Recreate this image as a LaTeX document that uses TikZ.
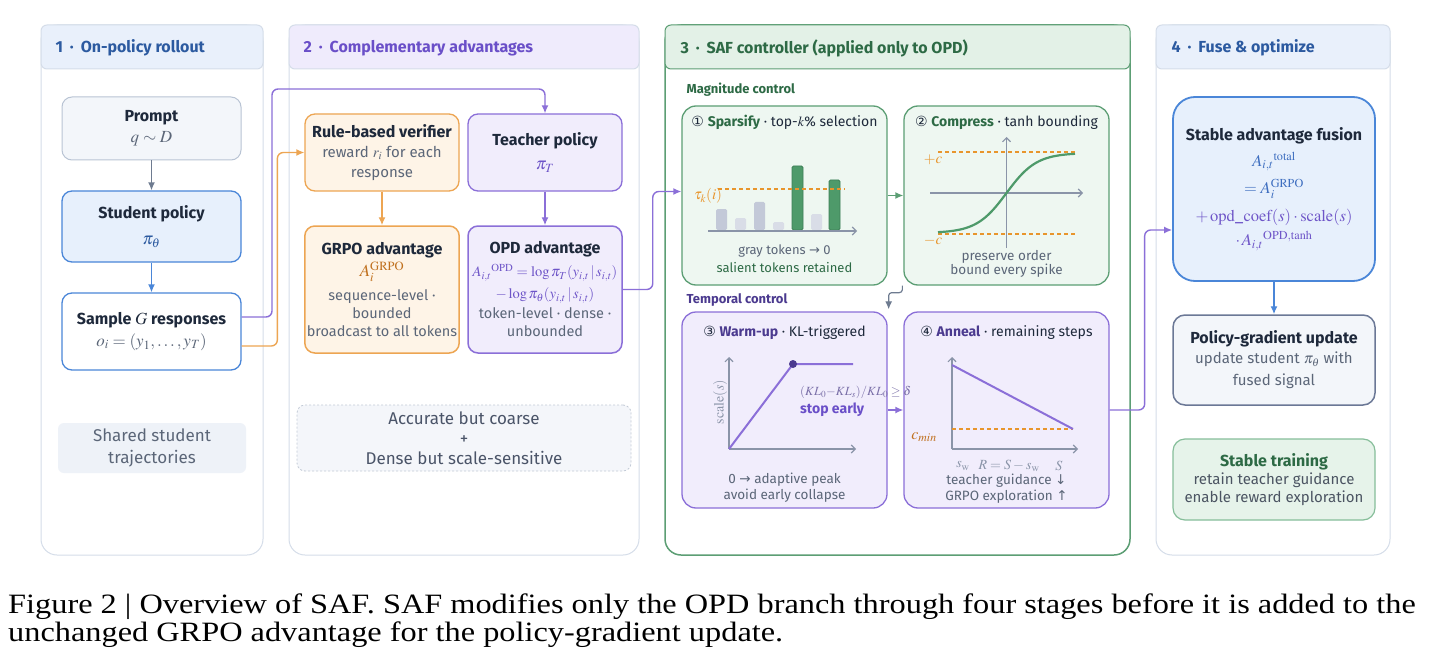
\documentclass[tikz,border=0pt]{standalone}
\usepackage{mathptmx}
\usepackage[no-math]{fontspec}
\setmainfont{Fira Sans}
\newfontfamily\symfont{DejaVu Sans}
\newfontfamily\capfont[FakeStretch=1.155]{Liberation Serif}
\usetikzlibrary{positioning,arrows.meta}

\definecolor{ink}{HTML}{1E293B}
\definecolor{txtgray}{HTML}{5B6678}
\definecolor{axisgray}{HTML}{8A94A8}
\definecolor{arrowgray}{HTML}{6E7B90}
\definecolor{panelline}{HTML}{D5DDE9}
\definecolor{headblue}{HTML}{E9F0FB}
\definecolor{headpurp}{HTML}{EFEBFC}
\definecolor{headgreen}{HTML}{E3F1E7}
\definecolor{blueline}{HTML}{4A86D8}
\definecolor{bluefill}{HTML}{E7F0FC}
\definecolor{bluetitle}{HTML}{2C5AA0}
\definecolor{bluemath}{HTML}{3F6FC0}
\definecolor{purpline}{HTML}{8B6FD8}
\definecolor{purpfill}{HTML}{F1EDFC}
\definecolor{purptitle}{HTML}{6A4FC8}
\definecolor{purpdark}{HTML}{4B3A8F}
\definecolor{purpmath}{HTML}{6E55C8}
\definecolor{purpmuted}{HTML}{7A6FA8}
\definecolor{orline}{HTML}{EDA552}
\definecolor{orfill}{HTML}{FEF4E7}
\definecolor{ormath}{HTML}{C0701E}
\definecolor{ordash}{HTML}{E8952C}
\definecolor{grline}{HTML}{5C9E74}
\definecolor{grfill}{HTML}{EEF7F1}
\definecolor{grdark}{HTML}{2D6A45}
\definecolor{grbar}{HTML}{4E9A6A}
\definecolor{grbarline}{HTML}{3D7F57}
\definecolor{barA}{HTML}{C3C9D8}
\definecolor{barB}{HTML}{D9DDE7}
\definecolor{promptfill}{HTML}{F3F6FA}
\definecolor{promptline}{HTML}{B9C4D4}
\definecolor{sharedfill}{HTML}{EEF2F8}
\definecolor{notefill}{HTML}{F4F6FA}
\definecolor{notedash}{HTML}{C2CAD6}
\definecolor{notetext}{HTML}{4A5468}
\definecolor{pguline}{HTML}{6B7896}
\definecolor{stablefill}{HTML}{E6F3EA}
\definecolor{stableline}{HTML}{86BE9A}

\newcommand\bt[2][ink]{{\fontsize{16}{20}\selectfont\bfseries\color{#1}#2}}
\newcommand\sym[1]{{\symfont#1}}
\newcommand\mth[1]{{\fontsize{17}{20}\selectfont#1}}
\newcommand\fm[2]{{\color{#1}\fontsize{16.5}{20}\selectfont#2}}
\newcommand\opdm[1]{{\color{purpmath}\fontsize{14.5}{18}\selectfont#1}}
\newcommand\hdot{\hspace{7pt}·\hspace{7pt}}

\tikzset{
  panel/.style={fill=white, draw=panelline, line width=1pt, rounded corners=16pt},
  panelhead/.style={draw=panelline, line width=1pt, rounded corners=6pt},
  headtext/.style={anchor=west, font=\fontsize{16}{19}\selectfont\bfseries},
  box/.style={rounded corners=10pt, line width=1.3pt, align=center, inner sep=2pt,
    text=txtgray, font=\fontsize{14.5}{18}\selectfont},
  conn/.style={line width=1.4pt, -{Latex[length=8pt,width=7pt]}, rounded corners=6pt},
  axis/.style={draw=axisgray, line width=1.1pt, -{Straight Barb[length=4pt,width=8pt]}},
  lbl/.style={font=\fontsize{13}{15}\selectfont, text=txtgray},
  boxtitle/.style={font=\fontsize{14}{17}\selectfont, text=ink},
  thr/.style={draw=ordash, line width=1.1pt, dash pattern=on 4pt off 3pt},
}

\begin{document}
\begin{tikzpicture}[x=1pt, y=-1pt]
\useasboundingbox (0,0) rectangle (1434,671);
\fill[white] (0,0) rectangle (1434,671);

% panels
\draw[panel] (41,25) rectangle (263,555);
\draw[panelhead, fill=headblue] (41,25) rectangle (263,69);
\node[headtext, text=bluetitle] at (52,48) {1\hdot On-policy rollout};

\draw[panel] (289,25) rectangle (639,555);
\draw[panelhead, fill=headpurp] (289,25) rectangle (639,69);
\node[headtext, text=purptitle] at (300,48) {2\hdot Complementary advantages};

\draw[panel, draw=grline, line width=1.5pt] (665,25) rectangle (1130,555);
\draw[panelhead, draw=grline, fill=headgreen] (665,25) rectangle (1130,69);
\node[headtext, text=grdark] at (677,48) {3\hdot SAF controller (applied only to OPD)};

\draw[panel] (1156,25) rectangle (1390,555);
\draw[panelhead, fill=headblue] (1156,25) rectangle (1390,69);
\node[headtext, text=bluetitle] at (1168,48) {4\hdot Fuse \& optimize};

% 1: rollout
\node[box, fill=promptfill, draw=promptline, line width=1pt, minimum width=179pt, minimum height=63pt] (prompt) at (151.5,128.5) {\bt{Prompt}\\[3pt]\mth{$q\sim D$}};
\node[box, fill=bluefill, draw=blueline, minimum width=179pt, minimum height=71pt] (student) at (151.5,226.5) {\bt{Student policy}\\[8pt]\mth{\color{bluetitle}$\pi_\theta$}};
\node[box, fill=white, draw=blueline, minimum width=179pt, minimum height=77pt] (sample) at (151.5,331.5) {\bt{Sample \mth{$G$} responses}\\[4pt]\mth{$o_i=(y_1,\ldots,y_T)$}};
\node[box, fill=sharedfill, draw=none, rounded corners=6pt, minimum width=188pt, minimum height=50pt, font=\fontsize{17}{22}\selectfont] (shared) at (152,448) {Shared student\\trajectories};

% 2: advantages
\node[box, fill=orfill, draw=orline, minimum width=154pt, minimum height=77pt, font=\fontsize{15}{20}\selectfont] (verifier) at (382,152.5) {\bt{Rule-based verifier}\\reward $r_i$ for each\\response};
\node[box, fill=orfill, draw=orline, line width=1.5pt, minimum width=154pt, minimum height=127pt] (grpo) at (382,289.5) {\bt{GRPO advantage}\\[3pt]\mth{\color{ormath}$A_i^{\mathrm{GRPO}}$}\\[6pt]sequence-level ·\\bounded\\broadcast to all tokens};
\node[box, fill=purpfill, draw=purpline, minimum width=154pt, minimum height=77pt] (teacher) at (545,152.5) {\bt{Teacher policy}\\[6pt]\mth{\color{purpmath}$\pi_T$}};
\node[box, fill=purpfill, draw=purpline, line width=1.5pt, minimum width=154pt, minimum height=127pt] (opd) at (545,289.5) {\bt{OPD advantage}\\[5pt]\opdm{$A_{i,t}{}^{\mathrm{OPD}}=\log\pi_T(y_{i,t}\,|\,s_{i,t})$}\\[4pt]\opdm{$-\log\pi_\theta(y_{i,t}\,|\,s_{i,t})$}\\[2pt]token-level · dense ·\\unbounded};
\node[box, fill=notefill, draw=notedash, line width=0.8pt, dash pattern=on 2pt off 2pt, rounded corners=8pt, minimum width=334pt, minimum height=66pt, text=notetext, font=\fontsize{17}{20}\selectfont] (note) at (464,438) {Accurate but coarse\\+\\Dense but scale-sensitive};

% 3: SAF controller
\node[anchor=west, font=\fontsize{13}{16}\selectfont\bfseries, text=grdark] (magctl) at (683,90) {Magnitude control};
\node[box, fill=grfill, draw=grline, rounded corners=14pt, minimum width=205pt, minimum height=179pt] (sparsify) at (784.5,195.5) {};
\node[box, fill=grfill, draw=grline, rounded corners=14pt, minimum width=205pt, minimum height=179pt] (compress) at (1006.5,195.5) {};
\node[anchor=west, font=\fontsize{13}{16}\selectfont\bfseries, text=purpdark] (tmpctl) at (683,300) {Temporal control};
\node[box, fill=purpfill, draw=purpline, rounded corners=14pt, minimum width=205pt, minimum height=196pt] (warmup) at (784.5,410) {};
\node[box, fill=purpfill, draw=purpline, rounded corners=14pt, minimum width=205pt, minimum height=196pt] (anneal) at (1006.5,410) {};

\node[boxtitle] at ([yshift=-17pt]sparsify.north) {\sym{①} \textcolor{grdark}{\textbf{Sparsify}} · top-$k$\% selection};
\node[boxtitle] at ([yshift=-17pt]compress.north) {\sym{②} \textcolor{grdark}{\textbf{Compress}} · tanh bounding};
\node[boxtitle] at ([yshift=-21pt]warmup.north) {\sym{③} \textcolor{purpdark}{\textbf{Warm-up}} · KL-triggered};
\node[boxtitle] at ([yshift=-21pt]anneal.north) {\sym{④} \textcolor{purpdark}{\textbf{Anneal}} · remaining steps};

% sparsify bars
\foreach \bx/\bt/\bc in {716/209/barA, 735/218/barB, 754/202/barA, 773/222/barB, 811/214/barB}
  \fill[\bc, rounded corners=1.5pt] (\bx,230) rectangle ({\bx+11},\bt);
\foreach \bx/\bt in {792/166, 829/180}
  \filldraw[fill=grbar, draw=grbarline, line width=0.8pt, rounded corners=1.5pt] (\bx,230) rectangle ({\bx+11},\bt);
\draw[axis] (708,231) -- (857,231);
\draw[thr] (718,189) -- (845,189);
\node[text=ordash, font=\fontsize{15}{17}\selectfont] at (708,196) {$\tau_k(i)$};
\node[lbl] at (784.5,251) {gray tokens \sym{→} 0};
\node[lbl, text=grdark] at (784.5,268) {salient tokens retained};

% compress curve
\draw[thr] (938,152) -- (1075,152);
\draw[thr] (938,234) -- (1075,234);
\draw[axis] (1006.5,248) -- (1006.5,137);
\draw[axis] (930,193) -- (1083,193);
\draw[grbar, line width=2.2pt] plot[domain=938:1075, samples=50, smooth] (\x, {193-40*tanh((\x-1006.5)/30)});
\node[text=ordash, font=\fontsize{15}{17}\selectfont] at (933,160) {$+c$};
\node[text=ordash, font=\fontsize{15}{17}\selectfont] at (933,241) {$-c$};
\node[lbl, font=\fontsize{13.5}{15}\selectfont] at (1006.5,257) {preserve order};
\node[lbl, font=\fontsize{13.5}{15}\selectfont] at (1006.5,271) {bound every spike};

% warm-up ramp
\draw[axis] (729,449) -- (729,357);
\draw[axis] (729,449) -- (856,449);
\draw[purpline, line width=2pt] (729,449) -- (793,364) -- (853,364);
\fill[purpdark] (793,364) circle[radius=4];
\node[rotate=90, text=axisgray, font=\fontsize{14}{15}\selectfont] at (720,402) {$\mathrm{scale}(s)$};
\node[anchor=west, text=purpmuted, font=\fontsize{12.5}{14}\selectfont, inner sep=0pt] at (800,392) {$(KL_0{-}KL_s)/KL_0\geq\delta$};
\node[anchor=west, font=\fontsize{14}{16}\selectfont\bfseries, text=purptitle, inner sep=0pt] at (800,410) {stop early};
\node[lbl, font=\fontsize{13.5}{15}\selectfont] at (784.5,480) {0 \sym{→} adaptive peak};
\node[lbl, font=\fontsize{13.5}{15}\selectfont] at (784.5,496) {avoid early collapse};

% anneal line
\draw[axis] (952,449) -- (952,357);
\draw[axis] (952,449) -- (1078,449);
\draw[thr] (952,429) -- (1073,429);
\draw[purpline, line width=2pt] (952,365) -- (1073,429);
\node[text=ormath, font=\fontsize{16}{17}\selectfont] at (924,437) {$c_{min}$};
\node[text=axisgray, font=\fontsize{14}{15}\selectfont] at (963,466) {$s_{\mathrm{w}}$};
\node[text=axisgray, font=\fontsize{14}{15}\selectfont] at (1009,466) {$R=S-s_{\mathrm{w}}$};
\node[text=axisgray, font=\fontsize{14}{15}\selectfont] at (1059,466) {$S$};
\node[lbl, font=\fontsize{13.5}{15}\selectfont] at (1006.5,481) {teacher guidance \sym{↓}};
\node[lbl, font=\fontsize{13.5}{15}\selectfont] at (1006.5,497) {GRPO exploration \sym{↑}};

% 4: fuse
\node[box, fill=bluefill, draw=blueline, line width=1.8pt, rounded corners=22pt, minimum width=202pt, minimum height=184pt] (fusion) at (1274,189) {\bt{Stable advantage fusion}\\[8pt]\fm{bluemath}{$A_{i,t}{}^{\mathrm{total}}$}\\[7pt]\fm{bluemath}{$=A_i^{\mathrm{GRPO}}$}\\[10pt]\fm{purpmath}{$+\,\mathrm{opd\_coef}(s)\cdot\mathrm{scale}(s)$}\\[5pt]\fm{purpmath}{$\cdot\,A_{i,t}{}^{\mathrm{OPD,tanh}}$}};
\node[box, fill=promptfill, draw=pguline, line width=1.5pt, rounded corners=12pt, minimum width=202pt, minimum height=90pt, font=\fontsize{15}{20}\selectfont] (pgu) at (1274,360) {\bt{Policy-gradient update}\\update student $\pi_\theta$ with\\[2pt]fused signal};
\node[box, fill=stablefill, draw=stableline, line width=1.2pt, rounded corners=12pt, minimum width=202pt, minimum height=81pt, text=ink!80, font=\fontsize{15}{18}\selectfont] (stable) at (1274,479.5) {\bt[grdark]{Stable training}\\retain teacher guidance\\enable reward exploration};

% connectors
\coordinate (bus) at (272,89);
\draw[conn, draw=arrowgray] (prompt) -- (student);
\draw[conn, draw=blueline] (student) -- (sample);
\draw[conn, draw=purpline] ([yshift=14.5pt]sample.east) -| (bus) -| (teacher.north);
\draw[conn, draw=orline] ([yshift=-14.5pt]sample.east) -| ([xshift=-27pt]verifier.west) -- (verifier.west);
\draw[conn, draw=orline] (verifier) -- (grpo);
\draw[conn, draw=purpline] (teacher) -- (opd);
\draw[conn, draw=purpline] (opd.east) -- ++(30,0) |- ([yshift=4pt]sparsify.west);
\draw[conn, draw=grline] (sparsify) -- (compress);
\draw[conn, draw=arrowgray, line width=1.2pt, rounded corners=3pt] ([xshift=-1pt]compress.south west) -- ++(0,7) -| ([xshift=1pt,yshift=2pt]warmup.north east);
\draw[conn, draw=purpline] (warmup) -- (anneal);
\draw[conn, draw=purpline] (anneal.east) -- ++(35,0) |- ([yshift=-41pt]fusion.west);
\draw[conn, draw=blueline] (fusion) -- (pgu);

% caption
\node[anchor=north west, align=left, inner sep=0pt, font=\capfont\fontsize{28}{28}\selectfont] (caption) at (8,594) {Figure 2 | Overview of SAF. SAF modifies only the OPD branch through four stages before it is added to the\\unchanged GRPO advantage for the policy-gradient update.};
\end{tikzpicture}
\end{document}
